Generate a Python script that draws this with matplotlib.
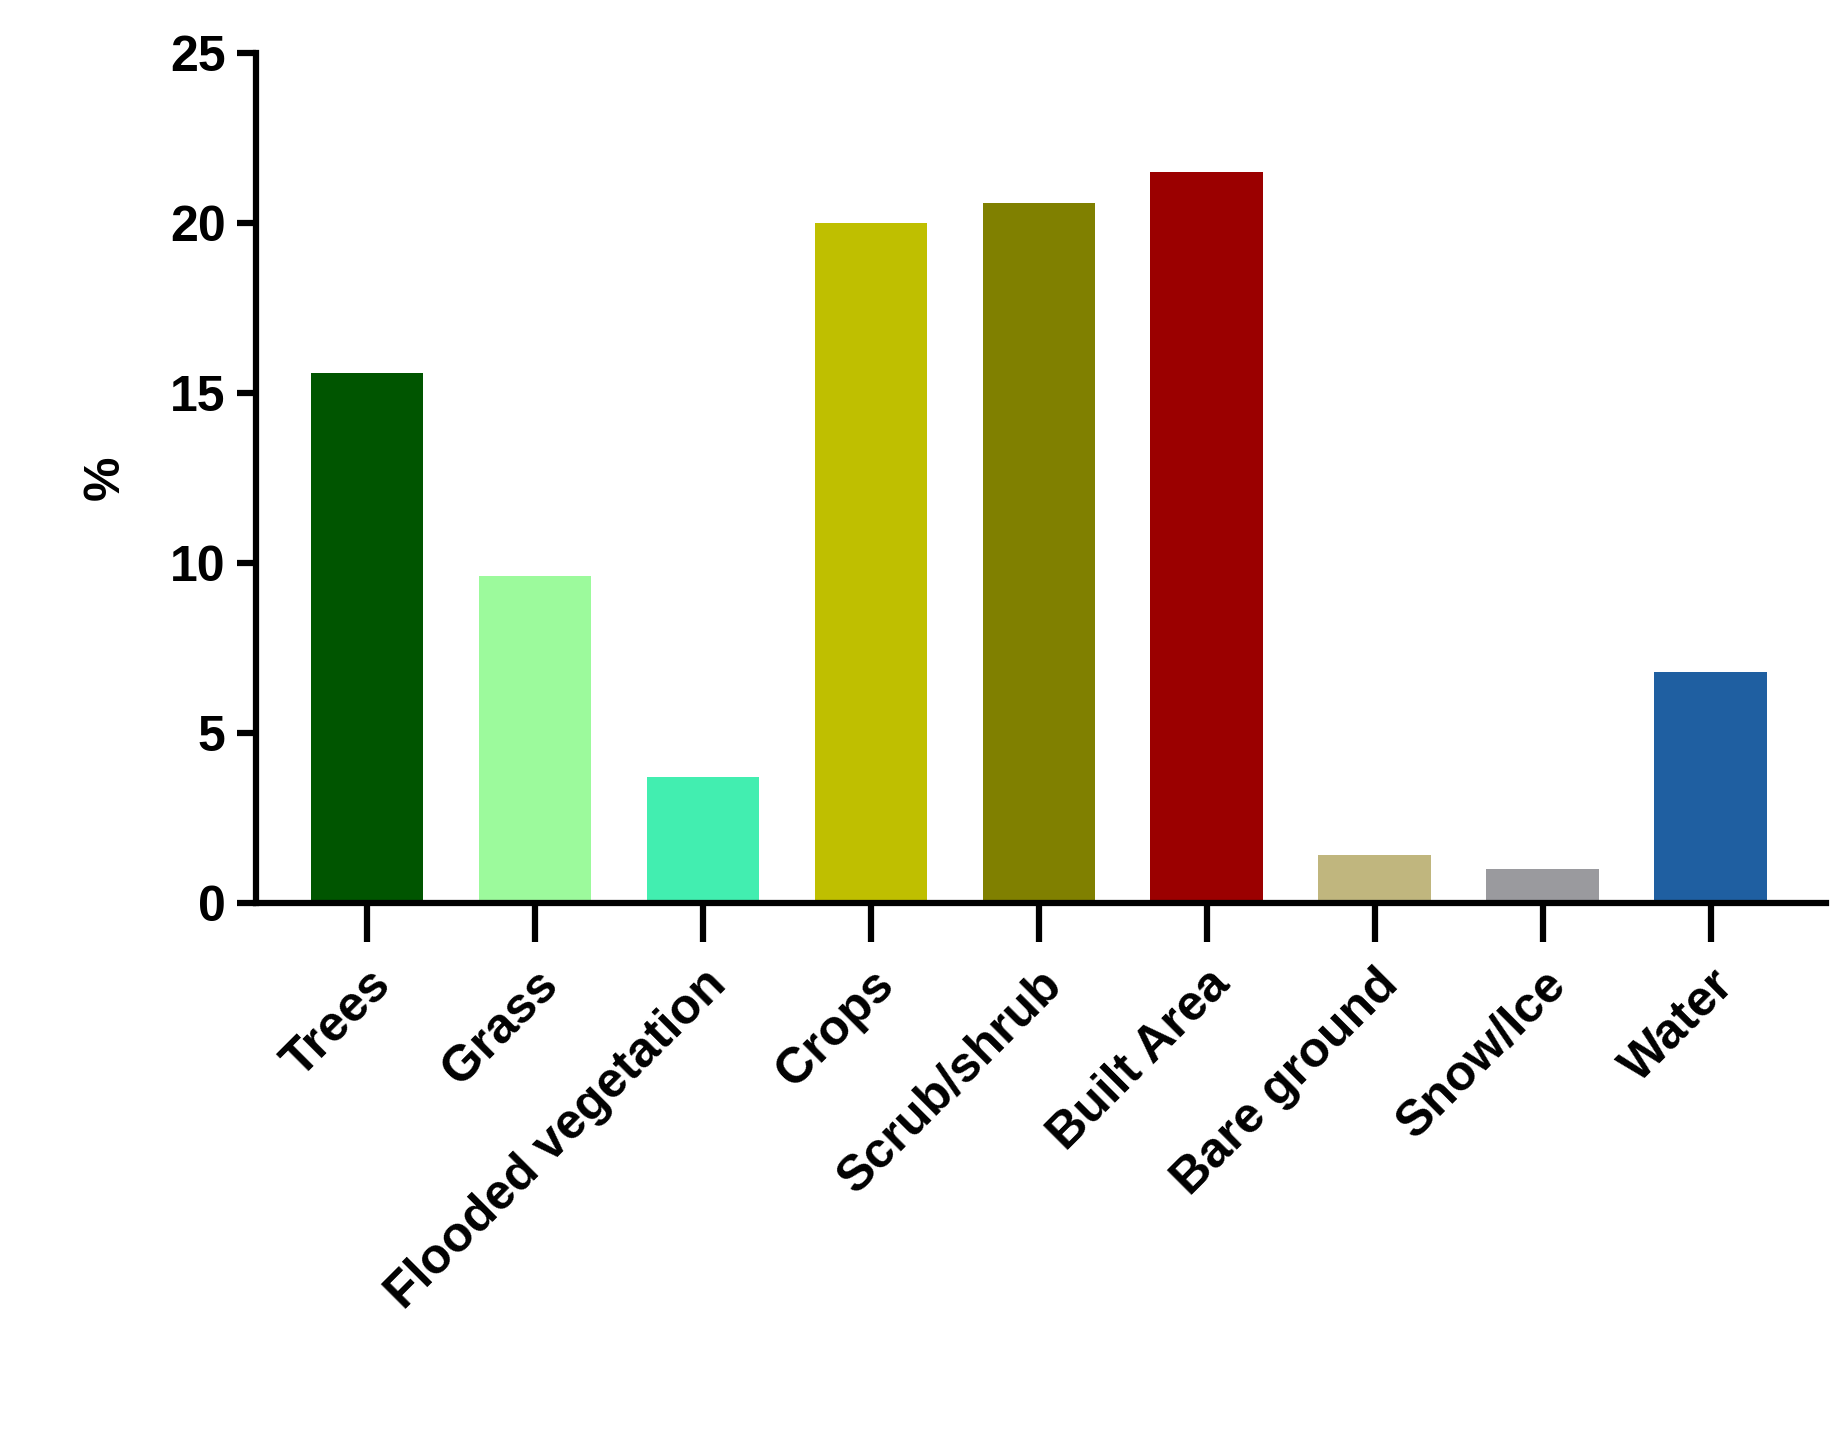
import matplotlib
matplotlib.use("Agg")
import matplotlib.pyplot as plt

categories = ["Trees", "Grass", "Flooded vegetation", "Crops", "Scrub/shrub",
              "Built Area", "Bare ground", "Snow/Ice", "Water"]
values = [15.6, 9.6, 3.7, 20.0, 20.6, 21.5, 1.4, 1.0, 6.8]
colors = ["#005500", "#9cfa9c", "#42eeb0", "#bfbf00", "#808000",
          "#9b0000", "#c0b67e", "#9a9a9e", "#1f5fa1"]

plt.rcParams['font.family'] = ['Liberation Sans', 'DejaVu Sans']
plt.rcParams['font.weight'] = 'bold'

fig = plt.figure(figsize=(18.43, 14.33), dpi=100)
ax = fig.add_axes([0.139, 0.37, 0.852, 0.593])

x = range(len(categories))
ax.bar(x, values, width=0.67, color=colors)

ax.set_xlim(-0.66, 8.69)
ax.set_ylim(0, 25)
ax.set_yticks([0, 5, 10, 15, 20, 25])
ax.set_xticks(list(x))
ax.set_xticklabels(categories, rotation=45, ha='right', rotation_mode='anchor',
                   fontsize=36, fontweight='bold')
ax.tick_params(axis='y', labelsize=36, width=4.5, length=14, pad=8)
ax.tick_params(axis='x', width=4.5, length=28, pad=14)
for lab in ax.get_yticklabels():
    lab.set_fontweight('bold')
ax.set_ylabel('%', fontsize=36, fontweight='bold', labelpad=30)

ax.spines['top'].set_visible(False)
ax.spines['right'].set_visible(False)
ax.spines['left'].set_linewidth(4.5)
ax.spines['bottom'].set_linewidth(4.5)

fig.savefig("out.png", dpi=100)
